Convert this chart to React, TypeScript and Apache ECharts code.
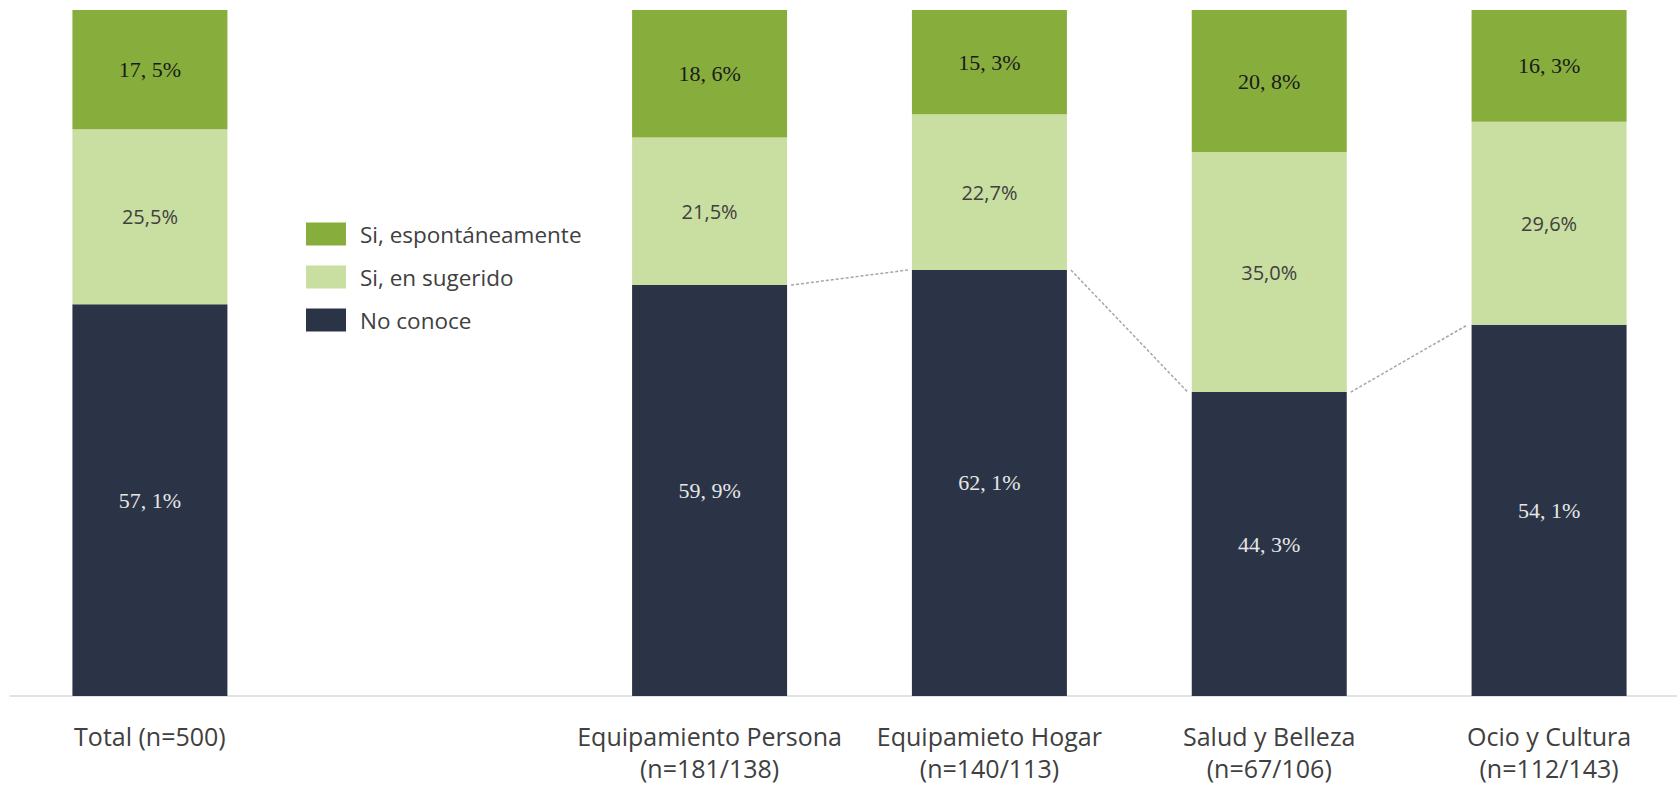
import React, { useEffect, useRef } from "react";
import * as echarts from "echarts";

const categories = [
  "Total (n=500)",
  "",
  "Equipamiento Persona\n(n=181/138)",
  "Equipamieto Hogar\n(n=140/113)",
  "Salud y Belleza\n(n=67/106)",
  "Ocio y Cultura\n(n=112/143)",
];
const noConoce: (number | null)[] = [57.1, null, 59.9, 62.1, 44.3, 54.1];
const sugerido: (number | null)[] = [25.5, null, 21.5, 22.7, 35.0, 29.6];
const espontaneo: (number | null)[] = [17.5, null, 18.6, 15.3, 20.8, 16.3];
const connectorPairs: [number, number][] = [
  [2, 3],
  [3, 4],
  [4, 5],
];

const BAR_W = 155;

export default function App() {
  const ref = useRef<HTMLDivElement>(null);
  useEffect(() => {
    if (!ref.current) return;
    const chart = echarts.init(ref.current, undefined, { renderer: "svg" });
    const toData = (arr: (number | null)[]) => arr.map((v) => (v == null ? "-" : v));
    const serifLabel = (color: string) => ({
      show: true,
      position: "inside",
      color,
      fontFamily: "'Liberation Serif', 'DejaVu Serif', serif",
      fontSize: 22,
      formatter: (p: any) => p.value.toFixed(1).replace(".", ", ") + "%",
    });
    const connData = connectorPairs.map(([a, b]) => [a, noConoce[a] as number, b, noConoce[b] as number]);
    chart.setOption({
      animation: false,
      grid: { left: 10, top: 10, width: 1679, height: 686 },
      legend: {
        orient: "vertical",
        left: 301,
        top: 217,
        itemWidth: 40,
        itemHeight: 23,
        itemGap: 19,
        icon: "rect",
        data: ["Si, espontáneamente", "Si, en sugerido", "No conoce"],
        textStyle: { fontFamily: "'Open Sans', sans-serif", fontSize: 22.5, color: "#404040", lineHeight: 24, padding: [0, 0, 0, 9] },
      },
      xAxis: {
        type: "category",
        data: categories,
        axisLine: { lineStyle: { color: "#d9d9d9", width: 1.5 } },
        axisTick: { inside: true, length: 8, lineStyle: { color: "#d9d9d9", width: 1.5 } },
        axisLabel: {
          interval: 0,
          margin: 24,
          fontFamily: "'Open Sans', sans-serif",
          fontSize: 25,
          lineHeight: 32,
          color: "#404040",
        },
      },
      yAxis: { type: "value", min: 0, max: 100, show: false, splitLine: { show: false } },
      series: [
        {
          name: "No conoce",
          type: "bar",
          stack: "s",
          barWidth: BAR_W,
          data: toData(noConoce),
          itemStyle: { color: "#2B3447" },
          label: serifLabel("#e6e6e6"),
        },
        {
          name: "Si, en sugerido",
          type: "bar",
          stack: "s",
          barWidth: BAR_W,
          data: toData(sugerido),
          itemStyle: { color: "#C9DEA1" },
          label: {
            show: true,
            position: "inside",
            color: "#404040",
            fontFamily: "'Open Sans', sans-serif",
            fontSize: 20,
            formatter: (p: any) => p.value.toFixed(1).replace(".", ",") + "%",
          },
        },
        {
          name: "Si, espontáneamente",
          type: "bar",
          stack: "s",
          barWidth: BAR_W,
          data: toData(espontaneo),
          itemStyle: { color: "#87AD3D" },
          label: serifLabel("#1a1a1a"),
        },
        {
          type: "custom",
          silent: true,
          z: 5,
          data: connData,
          renderItem: (params: any, api: any) => {
            const p1 = api.coord([api.value(0), api.value(1)]);
            const p2 = api.coord([api.value(2), api.value(3)]);
            return {
              type: "line",
              shape: { x1: p1[0] + BAR_W / 2 + 4, y1: p1[1], x2: p2[0] - BAR_W / 2 - 4, y2: p2[1] },
              style: { stroke: "#a6a6a6", lineWidth: 1.5, lineDash: [3, 2] },
            };
          },
        },
      ],
    });
    return () => chart.dispose();
  }, []);
  return (
    <div style={{ position: "absolute", left: 0, top: 0, width: 1677, height: 786, overflow: "hidden" }}>
      <div ref={ref} style={{ width: 1700, height: 786 }} />
    </div>
  );
}
